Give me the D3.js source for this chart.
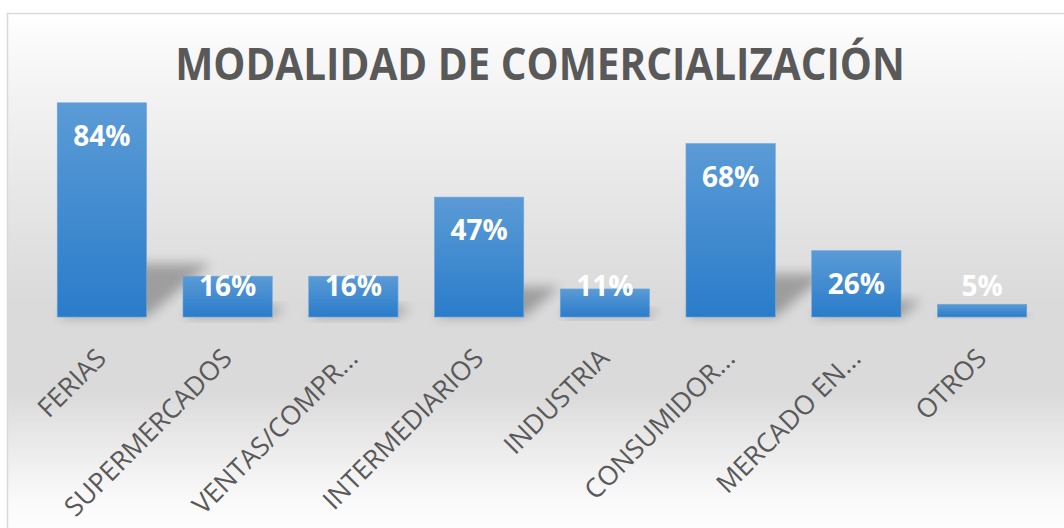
<!DOCTYPE html>
<html>
<head>
<meta charset="utf-8">
<script src="https://cdn.jsdelivr.net/npm/d3@7"></script>
<style>
  body { margin: 0; background: #fff; }
  svg { display: block; }
</style>
</head>
<body>
<svg id="grafico" width="1064" height="528"></svg>
<script>
// Datos
const categorias = ["FERIAS", "SUPERMERCADOS", "VENTAS/COMPR...", "INTERMEDIARIOS",
    "INDUSTRIA", "CONSUMIDOR...", "MERCADO EN...", "OTROS"];
const valores = [84, 16, 16, 47, 11, 68, 26, 5];
const titulo = "MODALIDAD DE COMERCIALIZACIÓN";

const width = 1064, height = 528;
const svg = d3.select("#grafico");
const defs = svg.append("defs");

// Sfondo a gradiente
const bg = defs.append("linearGradient")
    .attr("id", "fondo")
    .attr("gradientUnits", "userSpaceOnUse")
    .attr("x1", 0).attr("y1", 13).attr("x2", 0).attr("y2", 528);
[[0, "#ffffff"], [0.04, "#fbfbfb"], [0.17, "#f2f2f2"], [0.36, "#e6e6e6"],
 [0.56, "#dadada"], [0.74, "#dadada"], [0.81, "#e6e6e6"], [0.89, "#f2f2f2"], [0.95, "#fafafa"], [1, "#fdfdfd"]]
    .forEach(s => bg.append("stop").attr("offset", s[0]).attr("stop-color", s[1]));

const barGrad = defs.append("linearGradient")
    .attr("id", "barra")
    .attr("x1", 0).attr("y1", 0).attr("x2", 0).attr("y2", 1);
barGrad.append("stop").attr("offset", 0).attr("stop-color", "#5b9bd6");
barGrad.append("stop").attr("offset", 1).attr("stop-color", "#2a7cca");

const blur = defs.append("filter").attr("id", "sombra")
    .attr("x", "-50%").attr("y", "-50%").attr("width", "200%").attr("height", "200%");
blur.append("feGaussianBlur").attr("stdDeviation", 6);

svg.append("rect")
    .attr("x", 7.5).attr("y", 13.5)
    .attr("width", 1070).attr("height", 530)
    .attr("fill", "url(#fondo)")
    .attr("stroke", "#d9d9d9")
    .attr("stroke-width", 1.5);

// Scale
const x = d3.scaleBand()
    .domain(categorias)
    .range([39, 1045])
    .paddingInner(0.29)
    .paddingOuter(0.145);

const y = d3.scaleLinear()
    .domain([0, 100])
    .range([317, 62]);

const data = categorias.map((c, i) => ({ cat: c, val: valores[i] }));

// Ombre prospettiche
svg.append("g").selectAll("path")
    .data(data)
    .enter()
    .append("path")
    .attr("d", function (d) {
        const x0 = x(d.cat), x1 = x0 + x.bandwidth();
        const h = y(0) - y(d.val);
        const sh = h * 0.25, sx = sh * 1.2;
        return "M" + x0 + "," + y(0) + " L" + x1 + "," + y(0) +
            " L" + (x1 + sx) + "," + (y(0) - sh) + " L" + (x0 + sx) + "," + (y(0) - sh) + " Z";
    })
    .attr("fill", "#000")
    .attr("opacity", 0.28)
    .attr("filter", "url(#sombra)");

// Barre
svg.append("g").selectAll("rect")
    .data(data)
    .enter()
    .append("rect")
    .attr("x", d => x(d.cat))
    .attr("y", d => y(d.val))
    .attr("width", x.bandwidth())
    .attr("height", d => y(0) - y(d.val))
    .attr("fill", "url(#barra)")
    .attr("stroke", "#6aa6dc")
    .attr("stroke-width", 0.6);

// Etichette valori
svg.append("g").selectAll("text")
    .data(data)
    .enter()
    .append("text")
    .attr("x", d => x(d.cat) + x.bandwidth() / 2)
    .attr("y", d => Math.min(y(d.val) + 43, y(0) - 21))
    .attr("text-anchor", "middle")
    .attr("font-family", "'Open Sans', sans-serif")
    .attr("font-weight", "bold")
    .attr("font-size", 28)
    .attr("fill", "#ffffff")
    .text(d => d.val + "%");

// Etichette asse x
svg.append("g").selectAll("text")
    .data(data)
    .enter()
    .append("text")
    .attr("transform", d => "translate(" + (x(d.cat) + x.bandwidth() / 2 + 6) + ",360) rotate(-45)")
    .attr("text-anchor", "end")
    .attr("font-family", "'Open Sans', sans-serif")
    .attr("font-size", 26.5)
    .attr("fill", "#595959")
    .text(d => d.cat);

// Titolo
const t = svg.append("text")
    .attr("x", 0)
    .attr("y", 0)
    .attr("text-anchor", "middle")
    .attr("font-family", "'Open Sans', sans-serif")
    .attr("font-weight", "bold")
    .attr("font-size", 45)
    .attr("fill", "#595959")
    .text(titulo);
const w = t.node().getComputedTextLength();
t.attr("transform", "translate(540,80) scale(" + (730 / w) + ",1)");
</script>
</body>
</html>
